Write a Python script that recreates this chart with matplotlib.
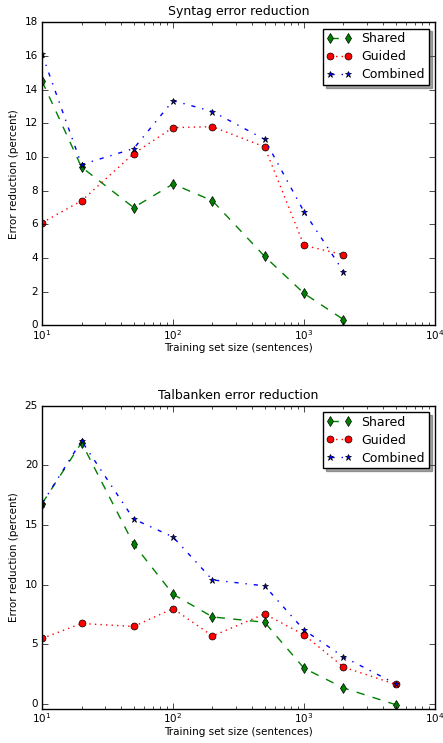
import matplotlib
matplotlib.use("Agg")
import matplotlib.pyplot as plt

plt.style.use("classic")
plt.rcParams["font.size"] = 7.5
plt.rcParams["legend.fontsize"] = 9
plt.rcParams["xtick.major.pad"] = 2
plt.rcParams["ytick.major.pad"] = 3

syntag_sizes = [10, 20, 50, 100, 200, 500, 1000, 2000]
syntag_shared = [14.5, 9.4, 7.0, 8.4, 7.4, 4.1, 1.9, 0.35]
syntag_guided = [6.1, 7.4, 10.2, 11.75, 11.8, 10.6, 4.75, 4.2]
syntag_combined = [16.1, 9.55, 10.5, 13.35, 12.7, 11.05, 6.75, 3.2]

talbanken_sizes = [10, 20, 50, 100, 200, 500, 1000, 2000, 5000]
talbanken_shared = [16.8, 21.9, 13.4, 9.2, 7.3, 6.85, 3.0, 1.35, -0.05]
talbanken_guided = [5.5, 6.75, 6.5, 8.0, 5.7, 7.55, 5.8, 3.1, 1.65]
talbanken_combined = [16.8, 22.05, 15.5, 14.0, 10.4, 9.9, 6.2, 3.95, 1.7]

fig = plt.figure(figsize=(4.43, 7.43), dpi=100, facecolor="white")
ax1 = fig.add_axes([0.095, 0.562, 0.887, 0.408])
ax2 = fig.add_axes([0.095, 0.046, 0.887, 0.408])


def draw(ax, x, shared, guided, combined, title, ylim, yticks):
    ax.semilogx(x, shared, "gd--", mec="k", mew=0.5, ms=5, label="Shared")
    ax.semilogx(x, guided, "ro:", mec="k", mew=0.5, ms=5, label="Guided")
    ax.semilogx(x, combined, "b*-.", mec="k", mew=0.5, ms=5, label="Combined")
    ax.set_xlim(10, 10000)
    ax.set_ylim(*ylim)
    ax.set_yticks(yticks)
    ax.set_title(title, fontsize=9)
    ax.set_xlabel("Training set size (sentences)", labelpad=1)
    ax.set_ylabel("Error reduction (percent)", labelpad=4)
    ax.legend(loc="upper right", numpoints=2, shadow=True,
              borderpad=0.3, labelspacing=0.4)


draw(ax1, syntag_sizes, syntag_shared, syntag_guided, syntag_combined,
     "Syntag error reduction", (0, 18), range(0, 19, 2))
draw(ax2, talbanken_sizes, talbanken_shared, talbanken_guided, talbanken_combined,
     "Talbanken error reduction", (-0.4, 25), range(0, 26, 5))

fig.savefig("out.png", dpi=100, facecolor="white")
